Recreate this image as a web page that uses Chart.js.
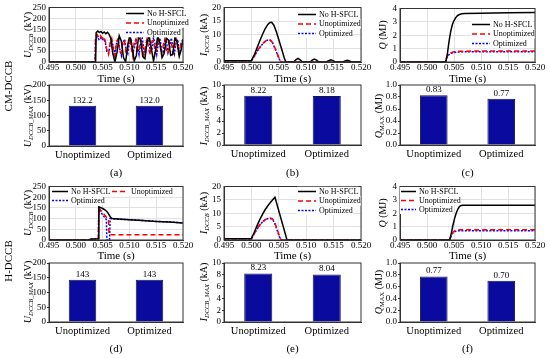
<!DOCTYPE html>
<html>
<head>
<meta charset="utf-8">
<script src="https://cdn.jsdelivr.net/npm/chart.js@4.4.0/dist/chart.umd.min.js"></script>
<style>
  body { margin: 0; background: #fff; }
  #fig { position: relative; width: 550px; height: 358px; overflow: hidden; font-family: "Liberation Serif", "Times New Roman", serif; color: #000; }
  canvas { position: absolute; }
  .ytitle { position: absolute; white-space: nowrap; font-size: 10px; transform: translate(-50%, -50%) rotate(-90deg); }
  .ytitle sub { font-size: 6.5px; vertical-align: -2px; line-height: 0; }
  .side { position: absolute; white-space: nowrap; font-size: 11px; transform: translate(-50%, -50%) rotate(-90deg); }
</style>
</head>
<body>
<div id="fig">
  <canvas id="la"></canvas><canvas id="lb"></canvas><canvas id="lc"></canvas>
  <canvas id="ba"></canvas><canvas id="bb"></canvas><canvas id="bc"></canvas>
  <canvas id="ld"></canvas><canvas id="le"></canvas><canvas id="lf"></canvas>
  <canvas id="bd"></canvas><canvas id="be"></canvas><canvas id="bf"></canvas>

  <div class="ytitle" style="left:27px;top:35px"><i>U</i><sub><i>DCCB</i></sub> (kV)</div>
  <div class="ytitle" style="left:203px;top:35px"><i>I</i><sub><i>DCCB</i></sub> (kA)</div>
  <div class="ytitle" style="left:382px;top:35px"><i>Q</i> (MJ)</div>
  <div class="ytitle" style="left:27px;top:116px"><i>U</i><sub><i>DCCB_MAX</i></sub> (kV)</div>
  <div class="ytitle" style="left:203px;top:116px"><i>I</i><sub><i>DCCB_MAX</i></sub> (kA)</div>
  <div class="ytitle" style="left:378px;top:116px"><i>Q</i><sub>MAX</sub> (MJ)</div>
  <div class="ytitle" style="left:27px;top:213px"><i>U</i><sub><i>DCCB</i></sub> (kV)</div>
  <div class="ytitle" style="left:203px;top:213px"><i>I</i><sub><i>DCCB</i></sub> (kA)</div>
  <div class="ytitle" style="left:382px;top:213px"><i>Q</i> (MJ)</div>
  <div class="ytitle" style="left:27px;top:292px"><i>U</i><sub><i>DCCB_MAX</i></sub> (kV)</div>
  <div class="ytitle" style="left:203px;top:292px"><i>I</i><sub><i>DCCB_MAX</i></sub> (kA)</div>
  <div class="ytitle" style="left:378px;top:292px"><i>Q</i><sub>MAX</sub> (MJ)</div>

  <div class="side" style="left:8px;top:86px">CM-DCCB</div>
  <div class="side" style="left:8px;top:261px">H-DCCB</div>
</div>

<script>
const FONT = "'Liberation Serif', 'Times New Roman', serif";
const seriesNames = ["No H-SFCL", "Unoptimized", "Optimized"];
const barCats = ["Unoptimized", "Optimized"];

// tick labels
const xTicks = [0.495, 0.500, 0.505, 0.510, 0.515, 0.520];
const uTicks = [0, 50, 100, 150, 200, 250];
const iTicks = [0, 5, 10, 15, 20];
const qTicks = [0, 1, 2, 3, 4];
const uMaxTicks = [0, 50, 100, 150, 200];
const iMaxTicks = [0, 2, 4, 6, 8, 10];
const qMaxTicks = [0, 0.2, 0.4, 0.6, 0.8, 1.0];

// (a) CM-DCCB voltage
const aTimeNo = [0.495,0.5037,0.5038,0.5041,0.5044,0.5047,0.5050,0.5053,0.5056,0.5059,0.5062,0.5065,0.5069,0.5073,0.5077,0.5081,0.5085,0.5089,0.5093,0.5097,0.5101,0.5105,0.5109,0.5113,0.5117,0.5121,0.5125,0.5129,0.5133,0.5137,0.5141,0.5145,0.5149,0.5153,0.5157,0.5161,0.5165,0.5169,0.5173,0.5177,0.5181,0.5185,0.5189,0.5193,0.5197,0.5200];
const aNoSfcl = [0,0,135,142,136,140,132,138,130,136,128,110,40,0,45,120,95,20,0,80,125,70,5,30,115,100,25,15,95,118,60,5,55,120,85,20,40,110,100,30,35,112,90,25,60,105];
const aTimeOpt = [0.495,0.5036,0.5037,0.5040,0.5043,0.5046,0.5049,0.5052,0.5055,0.5058,0.5061,0.5064,0.5067,0.5070,0.5073,0.5076,0.5079,0.5082,0.5085,0.5088,0.5091,0.5094,0.5097,0.5100,0.5103,0.5106,0.5109,0.5112,0.5115,0.5118,0.5121,0.5124,0.5127,0.5130,0.5133,0.5136,0.5139,0.5142,0.5145,0.5148,0.5151,0.5154,0.5157,0.5160,0.5163,0.5166,0.5169,0.5172,0.5175,0.5178,0.5181,0.5184,0.5187,0.5190,0.5193,0.5196,0.5199];
const aUnopt = [0,0,118,126,112,121,108,117,98,55,35,88,108,58,30,92,106,48,42,100,96,36,62,110,72,30,88,104,46,52,106,85,32,70,108,60,35,95,100,42,55,110,80,34,75,105,55,40,98,96,40,62,108,72,36,85,100];
const aOpt = [0,0,108,115,104,112,100,108,90,45,40,80,100,70,35,85,110,60,30,88,105,50,38,95,100,45,60,108,78,35,90,110,55,40,98,102,48,58,112,80,36,88,108,52,45,100,96,42,65,110,70,38,92,104,50,55,100];

// (b) CM-DCCB current
const bTimeNo = [0.495,0.500,0.5005,0.501,0.5015,0.502,0.5025,0.503,0.5034,0.5037,0.5041,0.5046,0.5051,0.5056,0.5060,0.5063,0.5077,0.5081,0.5085,0.5089,0.5093,0.5107,0.5111,0.5115,0.5119,0.5123,0.5137,0.5141,0.5145,0.5149,0.5153,0.5167,0.5171,0.5175,0.5179,0.5183,0.520];
const bNoSfcl = [0.5,0.5,2.5,5,7.6,10,12.2,13.8,14.5,14.6,13.5,10.8,7.5,4.2,1.5,0,0,0.8,1.3,0.8,0,0,0.7,1.1,0.7,0,0,0.5,0.8,0.5,0,0,0.4,0.6,0.4,0,0];
const bTimeOpt = [0.495,0.500,0.5005,0.501,0.5015,0.502,0.5025,0.5029,0.5032,0.5035,0.5039,0.5043,0.5047,0.5051,0.5054,0.520];
const bUnopt = [0.5,0.5,2,3.8,5.3,6.6,7.6,8.1,8.2,8.0,7.0,5.2,3.2,1.2,0,0];
const bOpt = [0.5,0.5,2,3.8,5.2,6.5,7.5,8.0,8.1,7.9,6.9,5.0,3.0,1.0,0,0];

// (c) CM-DCCB energy
const cTimeNo = [0.495,0.5035,0.5038,0.5041,0.5044,0.5047,0.5050,0.5053,0.5056,0.5060,0.5065,0.5070,0.5100,0.5150,0.5200];
const cNoSfcl = [0,0,0.7,1.6,2.3,2.8,3.1,3.3,3.45,3.55,3.6,3.62,3.65,3.68,3.7];
const cTimeOpt = [0.495,0.5034,0.5036,0.5039,0.5042,0.5046,0.5050,0.5055,0.5060,0.5070,0.5100,0.5150,0.5200];
const cUnopt = [0,0,0.3,0.52,0.64,0.72,0.76,0.79,0.8,0.81,0.82,0.825,0.83];
const cOpt = [0,0,0.28,0.48,0.6,0.67,0.71,0.74,0.75,0.76,0.765,0.77,0.77];

// (d) H-DCCB voltage
const dTimeNo = [0.495,0.5025,0.5028,0.5042,0.5043,0.5047,0.5051,0.5055,0.5059,0.5062,0.5065,0.5068,0.5080,0.5100,0.5125,0.5150,0.5175,0.5200];
const dNoSfcl = [0,0,4,6,155,151,146,140,130,118,106,100,98,95,91,87,84,80];
const dTimeUn = [0.495,0.5025,0.5028,0.5042,0.5043,0.5046,0.5050,0.5054,0.5058,0.5061,0.5062,0.5200];
const dUnopt = [0,0,4,6,150,140,128,116,104,95,25,25];
const dTimeOpt = [0.495,0.5025,0.5028,0.5042,0.5043,0.5046,0.5050,0.5054,0.5057,0.5058,0.5063,0.5064,0.5068,0.5080,0.5100,0.5125,0.5150,0.5175,0.5200];
const dOpt = [0,0,4,6,145,132,118,105,95,0,0,100,99,97,95,91,87,84,80];

// (e) H-DCCB current
const eTimeNo = [0.495,0.500,0.5005,0.501,0.5015,0.502,0.5025,0.503,0.5035,0.504,0.5043,0.5065,0.520];
const eNoSfcl = [0.5,0.5,2.8,5.2,7.5,9.5,11.3,12.8,14.1,15.3,16,0,0];
const eTimeOpt = [0.495,0.500,0.5005,0.501,0.5015,0.502,0.5025,0.503,0.5034,0.5038,0.5042,0.5046,0.5050,0.5054,0.520];
const eUnopt = [0.5,0.5,2.3,4.1,5.6,6.8,7.6,8.1,8.23,8.0,7.0,4.6,2.2,0,0];
const eOpt = [0.5,0.5,2.2,4.0,5.5,6.7,7.5,8.0,8.04,7.8,6.6,4.2,1.8,0,0];

// (f) H-DCCB energy
const fTimeNo = [0.495,0.5042,0.5045,0.5048,0.5051,0.5054,0.5057,0.5060,0.5063,0.5066,0.5200];
const fNoSfcl = [0,0,0.5,1.1,1.6,2.0,2.3,2.5,2.58,2.6,2.6];
const fTimeOpt = [0.495,0.5042,0.5045,0.5048,0.5052,0.5056,0.5060,0.5065,0.5200];
const fUnopt = [0,0,0.35,0.58,0.7,0.75,0.76,0.77,0.77];
const fOpt = [0,0,0.32,0.53,0.64,0.68,0.7,0.7,0.7];

// peak values (bar panels)
const barA = [132.2, 132.0];
const barB = [8.22, 8.18];
const barC = [0.83, 0.77];
const barD = [143, 143];
const barE = [8.23, 8.04];
const barF = [0.77, 0.70];

Chart.defaults.font.family = FONT;
Chart.defaults.color = "#000";

const GRID = "#e2e2e2";
const AXIS = "#333";
const BAR = "#0a0a9e";
const BAR_EDGE = "#15154a";
const tickFont = { family: FONT, size: 9, lineHeight: 1 };
const lineStyles = [
  { borderColor: "#000000", borderWidth: 1.5, borderDash: [] },
  { borderColor: "#ff0000", borderWidth: 1.5, borderDash: [5, 3] },
  { borderColor: "#0000ff", borderWidth: 1.5, borderDash: [2, 1.5] },
];

// box around the plot area
const framePlugin = {
  id: "frame",
  afterDatasetsDraw(chart) {
    const a = chart.chartArea, c = chart.ctx;
    c.save();
    c.strokeStyle = AXIS;
    c.lineWidth = 1;
    c.strokeRect(a.left, a.top, a.right - a.left, a.bottom - a.top);
    c.restore();
  },
};

// legend drawn inside the plot area
const boxLegend = {
  id: "boxLegend",
  afterDraw(chart, args, opts) {
    if (!opts || opts.x === undefined) return;
    const a = chart.chartArea, c = chart.ctx;
    c.save();
    c.font = "8px " + FONT;
    c.textBaseline = "middle";
    chart.data.datasets.forEach((ds, i) => {
      const col = i % opts.cols, row = Math.floor(i / opts.cols);
      const x = a.left + opts.x + col * opts.colW;
      const y = a.top + opts.y + row * opts.rowH;
      const tw = c.measureText(ds.label).width;
      c.fillStyle = "#fff";
      c.fillRect(x - 1, y - opts.rowH / 2, opts.len + 4 + tw, opts.rowH);
      c.strokeStyle = ds.borderColor;
      c.lineWidth = ds.borderWidth;
      c.setLineDash(ds.borderDash || []);
      c.beginPath();
      c.moveTo(x, y);
      c.lineTo(x + opts.len, y);
      c.stroke();
      c.setLineDash([]);
      c.fillStyle = "#000";
      c.fillText(ds.label, x + opts.len + 3, y);
    });
    c.restore();
  },
};

// numbers above the bars
const valueLabels = {
  id: "valueLabels",
  afterDatasetsDraw(chart, args, opts) {
    const c = chart.ctx;
    const ds = chart.data.datasets[0];
    c.save();
    c.font = "9px " + FONT;
    c.fillStyle = "#000";
    c.textAlign = "center";
    c.textBaseline = "bottom";
    chart.getDatasetMeta(0).data.forEach((bar, i) => {
      c.fillText(ds.data[i].toFixed(opts.dec), bar.x, bar.y - 1);
    });
    c.restore();
  },
};

const WY = 32, PT = 7, PR = 14;

function placeCanvas(id, box, hx) {
  const cv = document.getElementById(id);
  cv.width = box[2] - box[0] + WY + PR;
  cv.height = box[3] - box[1] + PT + hx;
  cv.style.left = (box[0] - WY) + "px";
  cv.style.top = (box[1] - PT) + "px";
  return cv;
}

function fixedTicks(vals) {
  return (scale) => { scale.ticks = vals.map((v) => ({ value: v })); };
}

function lineChart(id, box, hx, yTicks, sets, leg) {
  const cv = placeCanvas(id, box, hx);
  return new Chart(cv, {
    type: "line",
    data: {
      datasets: sets.map((s, i) => ({
        label: seriesNames[i],
        data: s[0].map((t, k) => ({ x: t, y: s[1][k] })),
        ...lineStyles[i],
        pointRadius: 0,
        fill: false,
        tension: 0,
      })),
    },
    options: {
      responsive: false,
      animation: false,
      events: [],
      layout: { padding: { top: PT, right: PR, left: 0, bottom: 0 }, autoPadding: false },
      plugins: { legend: { display: false }, tooltip: { enabled: false }, boxLegend: leg },
      scales: {
        x: {
          type: "linear",
          min: xTicks[0],
          max: xTicks[xTicks.length - 1],
          afterBuildTicks: fixedTicks(xTicks),
          afterFit: (s) => { s.height = hx; },
          grid: { color: GRID, drawTicks: false },
          border: { color: AXIS },
          ticks: { font: tickFont, padding: 1, maxRotation: 0, autoSkip: false, callback: (v) => v.toFixed(3) },
          title: { display: true, text: "Time (s)", font: { family: FONT, size: 11 }, padding: 0 },
        },
        y: {
          min: 0,
          max: yTicks[yTicks.length - 1],
          afterBuildTicks: fixedTicks(yTicks),
          afterFit: (s) => { s.width = WY; },
          grid: { color: GRID, drawTicks: false },
          border: { color: AXIS },
          ticks: { font: tickFont, padding: 3, autoSkip: false },
        },
      },
    },
    plugins: [framePlugin, boxLegend],
  });
}

function barChart(id, box, hx, yTicks, yDec, vals, dec, tag) {
  const cv = placeCanvas(id, box, hx);
  return new Chart(cv, {
    type: "bar",
    data: {
      labels: barCats,
      datasets: [{
        data: vals,
        backgroundColor: BAR,
        borderColor: BAR_EDGE,
        borderWidth: 1,
        barPercentage: 0.82,
        categoryPercentage: 0.5,
      }],
    },
    options: {
      responsive: false,
      animation: false,
      events: [],
      layout: { padding: { top: PT, right: PR, left: 0, bottom: 0 }, autoPadding: false },
      plugins: { legend: { display: false }, tooltip: { enabled: false }, valueLabels: { dec: dec } },
      scales: {
        x: {
          afterFit: (s) => { s.height = hx; },
          grid: { display: false, drawTicks: false },
          border: { color: AXIS },
          ticks: { font: { family: FONT, size: 10.5, lineHeight: 1 }, padding: 4 },
          title: { display: true, text: tag, font: { family: FONT, size: 11 }, padding: 0 },
        },
        y: {
          min: 0,
          max: yTicks[yTicks.length - 1],
          afterBuildTicks: fixedTicks(yTicks),
          afterFit: (s) => { s.width = WY; },
          grid: { display: true, drawOnChartArea: false, drawTicks: true, tickLength: 2, tickColor: AXIS },
          border: { color: AXIS },
          ticks: { font: tickFont, padding: 1, autoSkip: false, callback: (v) => v.toFixed(yDec) },
        },
      },
    },
    plugins: [framePlugin, valueLabels],
  });
}

// top row: CM-DCCB time traces
lineChart("la", [49, 7, 183, 62], 24, uTicks,
  [[aTimeNo, aNoSfcl], [aTimeOpt, aUnopt], [aTimeOpt, aOpt]],
  { x: 77, y: 6, cols: 1, colW: 0, rowH: 9.5, len: 18 });
lineChart("lb", [224, 7, 361, 62], 24, iTicks,
  [[bTimeNo, bNoSfcl], [bTimeOpt, bUnopt], [bTimeOpt, bOpt]],
  { x: 74, y: 7, cols: 1, colW: 0, rowH: 9.5, len: 18 });
lineChart("lc", [400, 8, 535, 62], 24, qTicks,
  [[cTimeNo, cNoSfcl], [cTimeOpt, cUnopt], [cTimeOpt, cOpt]],
  { x: 72, y: 16, cols: 1, colW: 0, rowH: 9.5, len: 18 });

// second row: CM-DCCB peaks
barChart("ba", [49, 85, 183, 146], 34, uMaxTicks, 0, barA, 1, "(a)");
barChart("bb", [224, 85, 361, 145], 35, iMaxTicks, 0, barB, 2, "(b)");
barChart("bc", [400, 85, 535, 145], 35, qMaxTicks, 1, barC, 2, "(c)");

// third row: H-DCCB time traces
lineChart("ld", [49, 186, 183, 240], 23, uTicks,
  [[dTimeNo, dNoSfcl], [dTimeUn, dUnopt], [dTimeOpt, dOpt]],
  { x: 3, y: 5, cols: 2, colW: 60, rowH: 9, len: 16 });
lineChart("le", [224, 186, 361, 240], 23, iTicks,
  [[eTimeNo, eNoSfcl], [eTimeOpt, eUnopt], [eTimeOpt, eOpt]],
  { x: 74, y: 5, cols: 1, colW: 0, rowH: 9.5, len: 18 });
lineChart("lf", [400, 186, 535, 240], 23, qTicks,
  [[fTimeNo, fNoSfcl], [fTimeOpt, fUnopt], [fTimeOpt, fOpt]],
  { x: 1, y: 5, cols: 1, colW: 0, rowH: 9, len: 15 });

// bottom row: H-DCCB peaks
barChart("bd", [49, 263, 183, 322], 34, uMaxTicks, 0, barD, 0, "(d)");
barChart("be", [224, 263, 361, 322], 34, iMaxTicks, 0, barE, 2, "(e)");
barChart("bf", [400, 263, 535, 322], 34, qMaxTicks, 1, barF, 2, "(f)");
</script>
</body>
</html>
